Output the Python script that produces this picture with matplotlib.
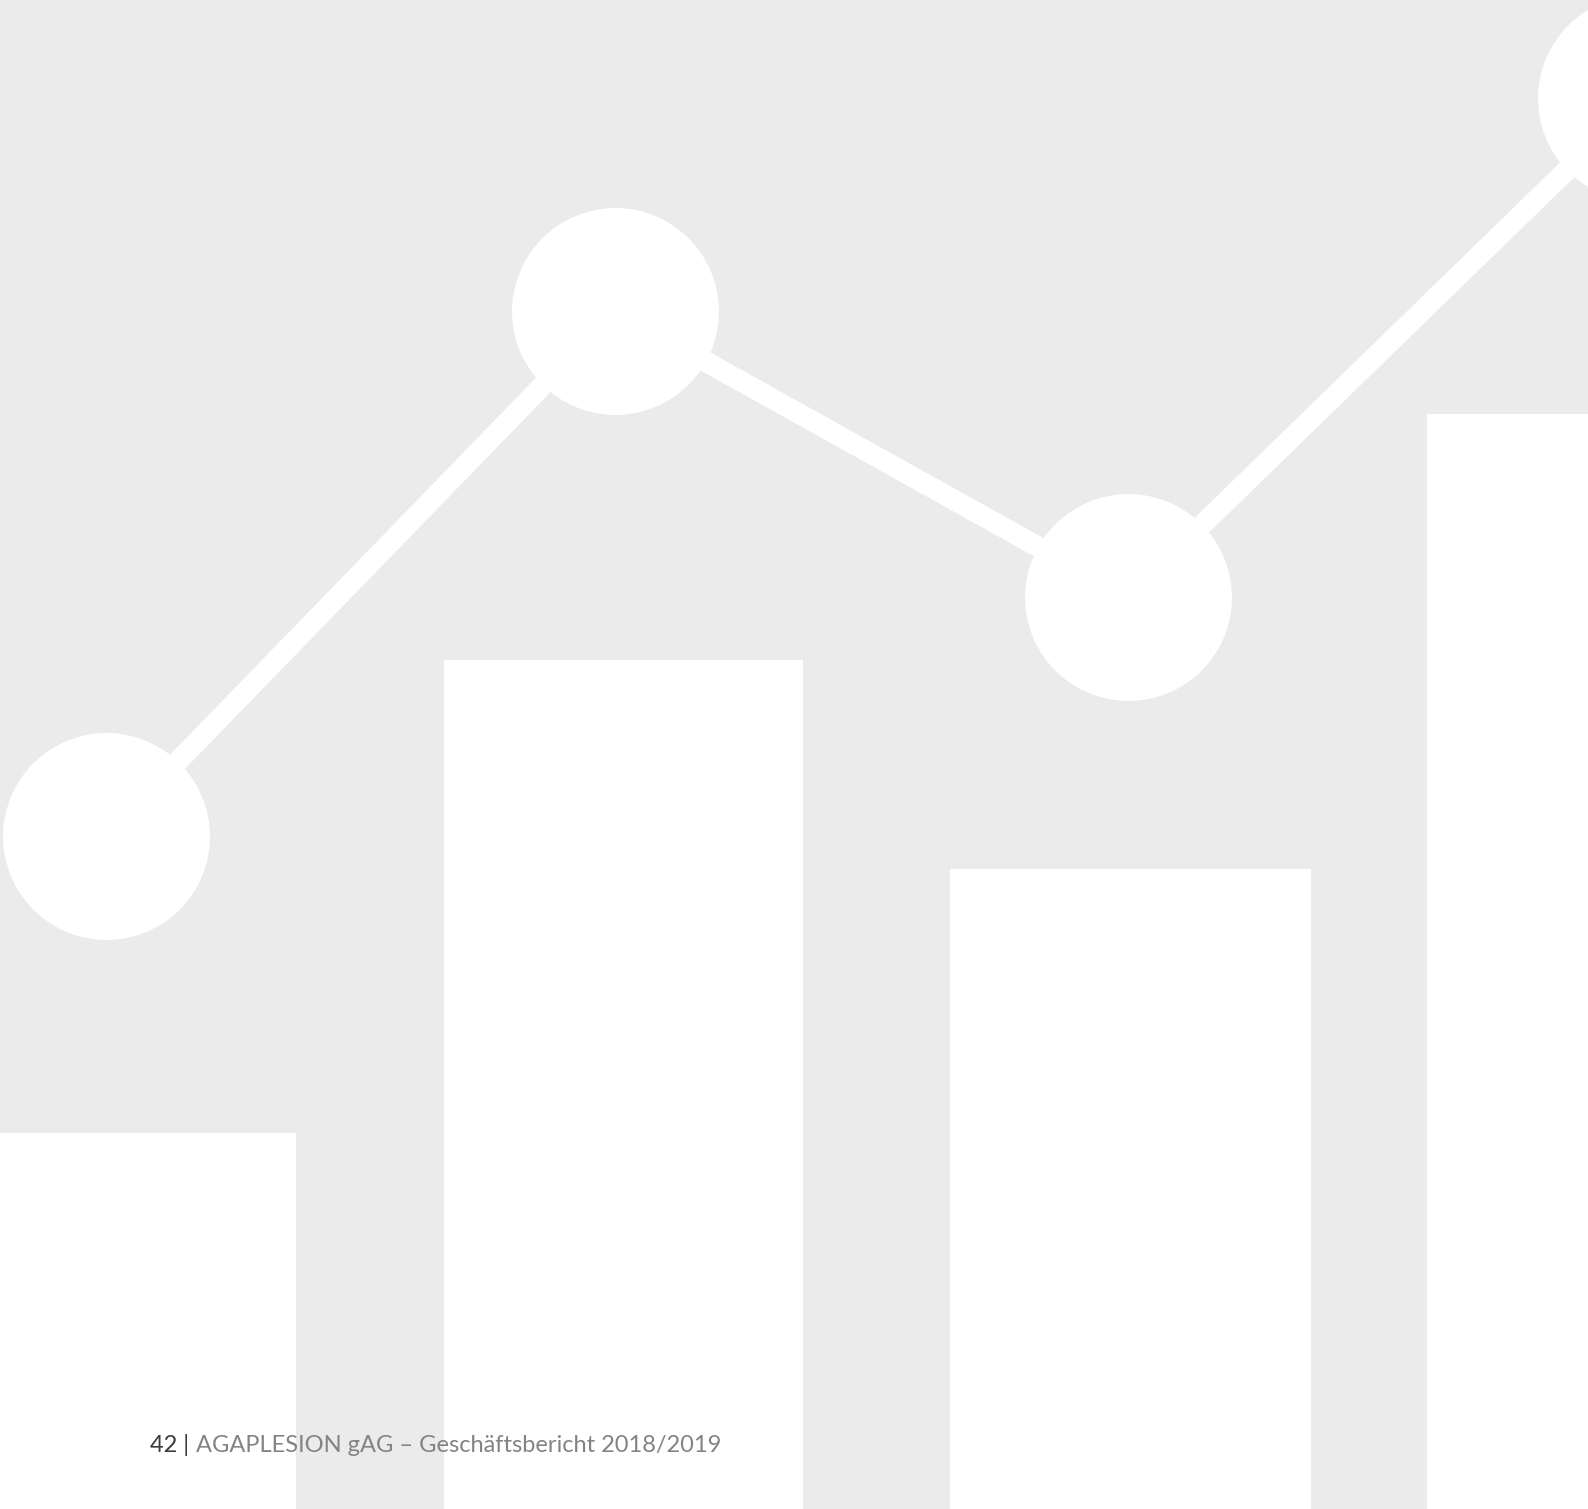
import matplotlib
matplotlib.use("Agg")
import matplotlib.pyplot as plt

# bars (canvas units, y measured upward from bottom edge)
bar_left = [-60, 444, 950, 1427]
bar_width = [356, 359, 361, 360]
bar_height = [376, 849, 640, 1095]

# line with round nodes
point_x = [106, 615, 1128, 1641]
point_y = [673.5, 1198, 912, 1411]

footer_page = "42 |"
footer_title = "AGAPLESION gAG \u2013 Gesch\u00e4ftsbericht 2018/2019"

W, H = 1588, 1509
bg = "#ebebeb"

fig = plt.figure(figsize=(W / 100, H / 100), dpi=100, facecolor=bg)
ax = fig.add_axes([0, 0, 1, 1])
ax.set_facecolor(bg)
ax.set_xlim(0, W)
ax.set_ylim(0, H)
ax.axis("off")

ax.bar(bar_left, bar_height, width=bar_width, align="edge", color="white", linewidth=0, zorder=1)
ax.plot(point_x, point_y, color="white", linewidth=14.8, solid_capstyle="butt", zorder=2)
ax.plot(point_x, point_y, "o", color="white", markersize=149, markeredgewidth=0, zorder=3)

t1 = fig.text(150 / W, 57 / H, footer_page, family="Lato", fontsize=17, color="#3c3c3c", va="baseline")
ax.annotate(footer_title, xy=(1, 0), xycoords=t1, xytext=(5, 0), textcoords="offset points",
            family="Lato", fontsize=17, color="#838383", va="bottom", annotation_clip=False)

fig.savefig("out.png", dpi=100, facecolor=bg)
